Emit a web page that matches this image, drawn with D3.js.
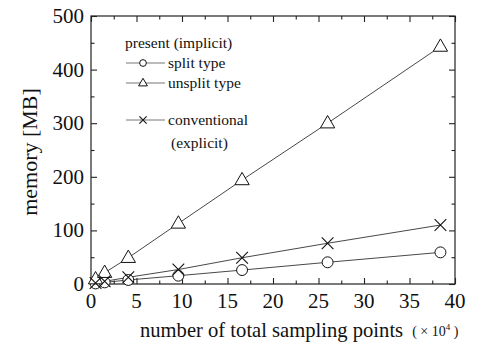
<!DOCTYPE html>
<html>
<head>
<meta charset="utf-8">
<script src="https://cdn.jsdelivr.net/npm/d3@7"></script>
<style>
  html, body { margin: 0; padding: 0; background: #fff; }
</style>
</head>
<body>
<svg id="chart" width="478" height="347" font-family="'Times New Roman', 'Liberation Serif', Times, 'DejaVu Serif', serif"></svg>
<script>
// Sampling points (×10^4) and memory usage [MB]
const samplingPoints = [0.5, 1.5, 4.1, 9.6, 16.6, 26.0, 38.4];
const splitType      = [1, 3, 7.5, 15.5, 26, 40.5, 59];
const unsplitType    = [9, 21, 49, 113, 194, 300, 443];
const conventional   = [2, 5, 12.5, 27, 49, 76, 110];

const xMajorTicks = [0, 5, 10, 15, 20, 25, 30, 35, 40];
const yMajorTicks = [0, 100, 200, 300, 400, 500];
const xMinorTicks = [2.5, 7.5, 12.5, 17.5, 22.5, 27.5, 32.5, 37.5];
const yMinorTicks = [50, 150, 250, 350, 450];

const series = [
  { name: "split type",   values: splitType,   marker: "circle" },
  { name: "unsplit type", values: unsplitType, marker: "triangle" },
  { name: "conventional", values: conventional, marker: "cross" }
];

const svg = d3.select("#chart");
const m = { left: 91, right: 455, top: 16, bottom: 284 };

const x = d3.scaleLinear().domain([0, 40]).range([m.left, m.right]);
const y = d3.scaleLinear().domain([0, 500]).range([m.bottom, m.top]);

// Frame
svg.append("rect")
  .attr("x", m.left).attr("y", m.top)
  .attr("width", m.right - m.left).attr("height", m.bottom - m.top)
  .attr("fill", "none").attr("stroke", "#222").attr("stroke-width", 1.2);

// Inward ticks on all four sides
function tickAxis(axisFn, scale, values, size, transform) {
  const g = svg.append("g").attr("transform", transform)
    .call(axisFn(scale).tickValues(values).tickSize(size).tickFormat(""));
  g.select(".domain").remove();
  g.selectAll(".tick line").attr("stroke", "#222").attr("stroke-width", 1.1);
  return g;
}
tickAxis(d3.axisBottom, x, xMajorTicks, -6, `translate(0,${m.bottom})`);
tickAxis(d3.axisBottom, x, xMinorTicks, -3.5, `translate(0,${m.bottom})`);
tickAxis(d3.axisTop, x, xMajorTicks, -6, `translate(0,${m.top})`);
tickAxis(d3.axisTop, x, xMinorTicks, -3.5, `translate(0,${m.top})`);
tickAxis(d3.axisLeft, y, yMajorTicks, -6, `translate(${m.left},0)`);
tickAxis(d3.axisLeft, y, yMinorTicks, -3.5, `translate(${m.left},0)`);
tickAxis(d3.axisRight, y, yMajorTicks, -6, `translate(${m.right},0)`);
tickAxis(d3.axisRight, y, yMinorTicks, -3.5, `translate(${m.right},0)`);

// Tick labels
svg.append("g").selectAll("text").data(xMajorTicks).join("text")
  .attr("x", d => x(d)).attr("y", 308)
  .attr("text-anchor", "middle").attr("font-size", 21).attr("fill", "#111")
  .text(d => d);
svg.append("g").selectAll("text").data(yMajorTicks).join("text")
  .attr("x", 84).attr("y", d => y(d) + 7)
  .attr("text-anchor", "end").attr("font-size", 21).attr("fill", "#111")
  .text(d => d);

// Axis titles
svg.append("text")
  .attr("transform", "translate(37,152) rotate(-90)")
  .attr("text-anchor", "middle").attr("font-size", 22).attr("fill", "#111")
  .text("memory [MB]");
const xt = svg.append("text").attr("x", 140).attr("y", 337).attr("font-size", 20.6).attr("fill", "#111");
xt.append("tspan").text("number of total sampling points");
xt.append("tspan").attr("font-size", 14).attr("dx", 9).attr("dy", -1).text("( × 10");
xt.append("tspan").attr("font-size", 9).attr("dy", -6).text("4");
xt.append("tspan").attr("font-size", 14).attr("dy", 6).text(" )");

// Marker drawing
function drawMarker(g, type, cx, cy, s) {
  if (type === "circle") {
    g.append("circle").attr("cx", cx).attr("cy", cy).attr("r", s * 0.42)
      .attr("fill", "#fff").attr("stroke", "#111").attr("stroke-width", 1);
  } else if (type === "triangle") {
    const h = s * 0.95, w = s * 1.1;
    g.append("path")
      .attr("d", `M${cx},${cy - h * 0.62}L${cx + w / 2},${cy + h * 0.38}L${cx - w / 2},${cy + h * 0.38}Z`)
      .attr("fill", "#fff").attr("stroke", "#111").attr("stroke-width", 1);
  } else {
    const r = s * 0.45;
    g.append("path")
      .attr("d", `M${cx - r},${cy - r}L${cx + r},${cy + r}M${cx - r},${cy + r}L${cx + r},${cy - r}`)
      .attr("stroke", "#111").attr("stroke-width", 1.1).attr("fill", "none");
  }
}

const line = d3.line().x(d => x(d[0])).y(d => y(d[1]));

series.forEach(s => {
  const pts = samplingPoints.map((p, i) => [p, s.values[i]]);
  svg.append("path").datum(pts).attr("d", line)
    .attr("fill", "none").attr("stroke", "#333").attr("stroke-width", 0.9);
});
series.forEach(s => {
  const g = svg.append("g");
  samplingPoints.forEach((p, i) => drawMarker(g, s.marker, x(p), y(s.values[i]), 13));
});

// Legend
const lg = svg.append("g");
lg.append("text").attr("x", 125).attr("y", 48).attr("font-size", 15.5).attr("fill", "#111").text("present (implicit)");
const legendRows = [
  { s: series[0], y: 63, label: "split type" },
  { s: series[1], y: 83, label: "unsplit type" },
  { s: series[2], y: 120, label: "conventional" }
];
legendRows.forEach(r => {
  lg.append("line").attr("x1", 126).attr("x2", 165).attr("y1", r.y).attr("y2", r.y)
    .attr("stroke", "#777").attr("stroke-width", 1);
  drawMarker(lg, r.s.marker, 143, r.y, 8);
  lg.append("text").attr("x", 168).attr("y", r.y + 5).attr("font-size", 15.5).attr("fill", "#111").text(r.label);
});
lg.append("text").attr("x", 171).attr("y", 148).attr("font-size", 15.5).attr("fill", "#111").text("(explicit)");
</script>
</body>
</html>
